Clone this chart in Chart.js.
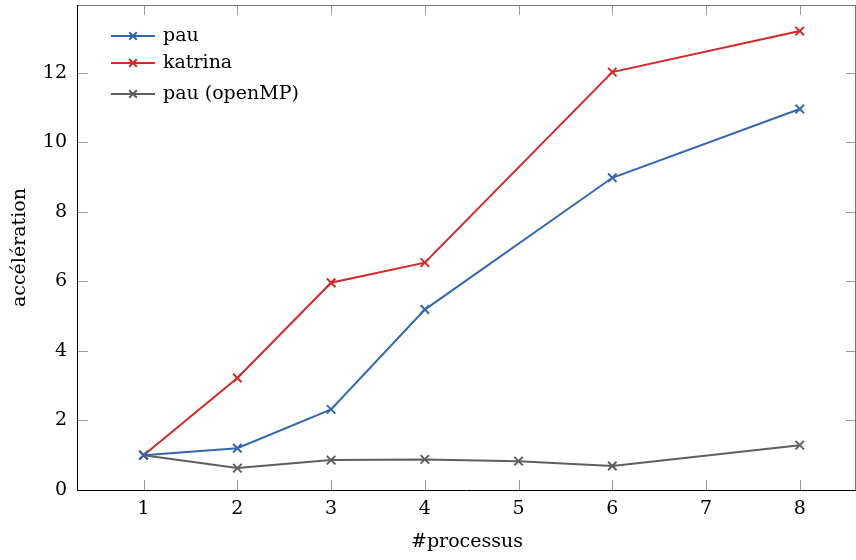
<!DOCTYPE html>
<html>
<head>
<meta charset="utf-8">
<script src="https://cdn.jsdelivr.net/npm/chart.js@4.4.1/dist/chart.umd.min.js"></script>
<style>
  html, body { margin: 0; padding: 0; background: #fff; }
  canvas { display: block; }
</style>
</head>
<body>
<canvas id="chart" width="856" height="560"></canvas>
<script>
// values
const pauX = [1, 2, 3, 4, 6, 8];
const pauY = [1.0, 1.2, 2.32, 5.19, 8.98, 10.96];
const katrinaX = [1, 2, 3, 4, 6, 8];
const katrinaY = [1.0, 3.22, 5.96, 6.54, 12.02, 13.2];
const openmpX = [1, 2, 3, 4, 5, 6, 8];
const openmpY = [1.0, 0.63, 0.86, 0.88, 0.83, 0.69, 1.29];

const seriesNames = ["pau", "katrina", "pau (openMP)"];
const seriesColors = ["#3368b0", "#d02a2a", "#5f5f5f"];

const xTitle = "#processus";
const yTitle = "accélération";

const FONT = "'DejaVu Serif', serif";
const toPoints = (xs, ys) => xs.map((x, i) => ({ x: x, y: ys[i] }));

const makeSet = (label, color, data) => ({
    label: label,
    data: data,
    borderColor: color,
    backgroundColor: color,
    borderWidth: 2,
    pointStyle: "crossRot",
    pointRadius: 6,
    pointBorderWidth: 2,
    tension: 0,
    fill: false
});

const drawCross = (ctx, x, y, r) =>
{
    ctx.beginPath();
    ctx.moveTo(x - r, y - r); ctx.lineTo(x + r, y + r);
    ctx.moveTo(x - r, y + r); ctx.lineTo(x + r, y - r);
    ctx.stroke();
};

// inward ticks on all four sides, frame, legend box
const framePlugin = {
    id: "frame",
    afterDraw(chart)
    {
        const ctx = chart.ctx;
        const { left, right, top, bottom } = chart.chartArea;
        const xs = chart.scales.x, ys = chart.scales.y;
        const len = 10;

        ctx.save();
        ctx.strokeStyle = "#9a9a9a";
        ctx.lineWidth = 1;
        ctx.beginPath();
        xs.ticks.forEach(t => {
            if (!Number.isInteger(t.value)) return;
            const px = Math.round(xs.getPixelForValue(t.value)) + 0.5;
            ctx.moveTo(px, bottom); ctx.lineTo(px, bottom - len);
            ctx.moveTo(px, top); ctx.lineTo(px, top + len);
        });
        ys.ticks.forEach(t => {
            if (!Number.isInteger(t.value)) return;
            const py = Math.round(ys.getPixelForValue(t.value)) + 0.5;
            ctx.moveTo(left, py); ctx.lineTo(left + len, py);
            ctx.moveTo(right, py); ctx.lineTo(right - len, py);
        });
        ctx.stroke();

        ctx.strokeStyle = "#777";
        ctx.beginPath();
        ctx.moveTo(left, top + 0.5); ctx.lineTo(right, top + 0.5);
        ctx.moveTo(right - 0.5, top); ctx.lineTo(right - 0.5, bottom);
        ctx.stroke();

        ctx.strokeStyle = "#000";
        ctx.beginPath();
        ctx.moveTo(Math.round(left) - 0.5, top); ctx.lineTo(Math.round(left) - 0.5, bottom + 0.5);
        ctx.moveTo(left - 1, Math.round(bottom) + 0.5); ctx.lineTo(right, Math.round(bottom) + 0.5);
        ctx.stroke();

        // legend
        const rows = [36, 63, 94];
        ctx.font = "19px " + FONT;
        ctx.textBaseline = "middle";
        ctx.textAlign = "left";
        chart.data.datasets.forEach((ds, i) => {
            const y = rows[i];
            ctx.strokeStyle = ds.borderColor;
            ctx.lineWidth = 2;
            ctx.beginPath();
            ctx.moveTo(111, y); ctx.lineTo(155, y);
            ctx.stroke();
            drawCross(ctx, 133, y, 3.8);
            ctx.fillStyle = "#000";
            ctx.fillText(ds.label, 163, y);
        });
        ctx.restore();
    }
};

new Chart(document.getElementById("chart"), {
    type: "line",
    data: {
        datasets: [
            makeSet(seriesNames[0], seriesColors[0], toPoints(pauX, pauY)),
            makeSet(seriesNames[1], seriesColors[1], toPoints(katrinaX, katrinaY)),
            makeSet(seriesNames[2], seriesColors[2], toPoints(openmpX, openmpY))
        ]
    },
    options: {
        responsive: false,
        animation: false,
        layout: { autoPadding: false, padding: { top: 5, right: 0, left: 0, bottom: 0 } },
        plugins: {
            legend: { display: false },
            tooltip: { enabled: false }
        },
        scales: {
            x: {
                type: "linear",
                min: 0.3,
                max: 8.6,
                afterFit: scale => {
                    scale.height = 70;
                    scale.paddingLeft = 0;
                    scale.paddingRight = 0;
                },
                grid: { display: false, drawTicks: false },
                border: { display: false },
                ticks: {
                    stepSize: 1,
                    padding: 8,
                    color: "#000",
                    font: { family: FONT, size: 19 },
                    callback: v => Number.isInteger(v) ? String(v) : ""
                },
                title: {
                    display: true,
                    text: xTitle,
                    color: "#000",
                    font: { family: FONT, size: 19 },
                    padding: { top: 0, bottom: 7 }
                }
            },
            y: {
                type: "linear",
                min: 0,
                max: 13.95,
                afterFit: scale => {
                    scale.width = 78;
                    scale.paddingTop = 0;
                    scale.paddingBottom = 0;
                },
                grid: { display: false, drawTicks: false },
                border: { display: false },
                ticks: {
                    stepSize: 2,
                    padding: 11,
                    color: "#000",
                    font: { family: FONT, size: 19 },
                    callback: v => Number.isInteger(v) ? String(v) : ""
                },
                title: {
                    display: true,
                    text: yTitle,
                    color: "#000",
                    font: { family: FONT, size: 19 },
                    padding: { top: 9, bottom: 0 }
                }
            }
        }
    },
    plugins: [framePlugin]
});
</script>
</body>
</html>
